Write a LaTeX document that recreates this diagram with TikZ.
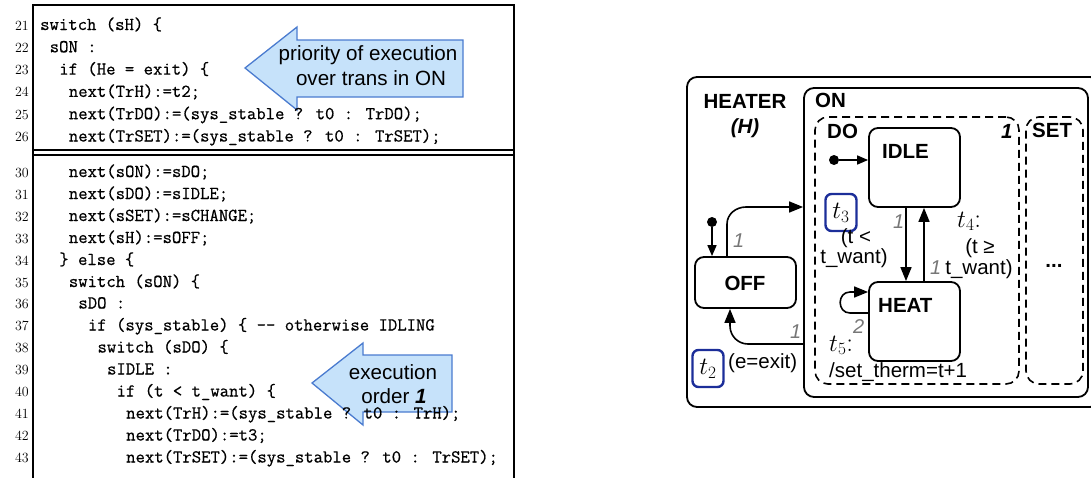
\documentclass[tikz,border=0pt]{standalone}
\usepackage{fontspec}
\newfontfamily\diag{Liberation Sans}
\newfontfamily\codefont[FakeBold=0.6]{Latin Modern Mono}
\usetikzlibrary{arrows.meta,calc}

\definecolor{calloutfill}{HTML}{C6E2FA}
\definecolor{calloutdraw}{HTML}{4A7BCF}
\definecolor{tbox}{HTML}{1C2E99}
\definecolor{prio}{HTML}{777777}

\tikzset{
  code/.style={anchor=base west, inner sep=0pt, font=\codefont\fontsize{18.2}{22}\selectfont},
  lnum/.style={anchor=base east, inner sep=0pt, font=\fontsize{14}{15}\selectfont},
  codebox/.style={line width=1.2pt},
  callout/.style={fill=calloutfill, draw=calloutdraw, line width=1.3pt, line join=miter},
  calltext/.style={anchor=base, inner sep=0pt, font=\diag\fontsize{20.6}{21}\selectfont},
  state/.style={draw, line width=1.8pt, rounded corners=9pt, inner sep=0pt},
  region/.style={draw, line width=1.6pt, dash pattern=on 8pt off 5pt, rounded corners=13pt, inner sep=0pt},
  lbl/.style={inner sep=0pt, font=\diag\fontsize{20.5}{21}\selectfont},
  ttl/.style={inner sep=0pt, font=\diag\bfseries\fontsize{20.5}{21}\selectfont},
  prio/.style={anchor=base west, inner sep=0pt, text=prio, font=\diag\itshape\fontsize{20}{20}\selectfont},
  tmath/.style={inner sep=0pt, font=\fontsize{27}{28}\selectfont},
  tname/.style={draw=tbox, line width=2.4pt, rounded corners=6pt, minimum width=31pt, minimum height=37pt, inner sep=0pt, font=\fontsize{27}{28}\selectfont},
  trans/.style={line width=1.6pt, -{Triangle[length=14pt,width=11pt]}},
  initarr/.style={line width=1.6pt, -{Triangle[length=11pt,width=9pt]}},
  initdot/.style={circle, fill, minimum size=10pt, inner sep=0pt},
}

% one listing line: number, baseline y, indentation (characters), text
\newcommand\codeln[4]{%
  \node[lnum] (n#1) at (29,#2) {#1};
  \node[code] (c#1) at ({40+#3*9.555},#2) {#4};}

\begin{document}
\begin{tikzpicture}[x=1pt,y=-1pt]
\useasboundingbox (0,0) rectangle (1091,477);

% ---------------- listing frame ----------------
\draw[codebox] (33,480) -- (33,5) -- (514,5) -- (514,480);
\draw[codebox] (33,150) -- (514,150);
\draw[codebox] (33,155) -- (514,155);

% ---------------- callouts ----------------
\draw[callout] (245,68) -- (297,27) -- (297,40) -- (463,40) -- (463,97)
  -- (297,97) -- (297,110) -- cycle;
\node[calltext] (prio1) at (368,60) {priority of execution};
\node[calltext] (prio2) at (371,85) {over trans in ON};

\draw[callout] (312,383) -- (363,343) -- (363,355) -- (452,355) -- (452,412)
  -- (363,412) -- (363,425) -- cycle;
\node[calltext] (ord1) at (393,379) {execution};
\node[calltext] (ord2) at (394,403) {order \textbf{\textit{1}}};

% ---------------- listing text ----------------
\codeln{21}{30}{0}{switch (sH) \{}
\codeln{22}{52.3}{1}{sON :}
\codeln{23}{74.6}{2}{if (He = exit) \{}
\codeln{24}{96.9}{3}{next(TrH):=t2;}
\codeln{25}{119.2}{3}{next(TrDO):=(sys\_stable ? t0 : TrDO);}
\codeln{26}{141.5}{3}{next(TrSET):=(sys\_stable ? t0 : TrSET);}
\codeln{30}{177}{3}{next(sON):=sDO;}
\codeln{31}{199}{3}{next(sDO):=sIDLE;}
\codeln{32}{221}{3}{next(sSET):=sCHANGE;}
\codeln{33}{243}{3}{next(sH):=sOFF;}
\codeln{34}{265}{2}{\} else \{}
\codeln{35}{287}{3}{switch (sON) \{}
\codeln{36}{308.5}{4}{sDO :}
\codeln{37}{330.5}{5}{if (sys\_stable) \{ -{}- otherwise IDLING}
\codeln{38}{352.5}{6}{switch (sDO) \{}
\codeln{39}{374.5}{7}{sIDLE :}
\codeln{40}{396.5}{8}{if (t < t\_want) \{}
\codeln{41}{418.5}{9}{next(TrH):=(sys\_stable ? t0 : TrH);}
\codeln{42}{440.5}{9}{next(TrDO):=t3;}
\codeln{43}{462.5}{9}{next(TrSET):=(sys\_stable ? t0 : TrSET);}

% ---------------- statechart ----------------
\node[state, rounded corners=10pt, minimum width=413pt, minimum height=330pt] (heater) at (893.5,242) {};
\node[state, rounded corners=10pt, minimum width=284pt, minimum height=309pt] (on) at (946,242.5) {};
\node[region, minimum width=204pt, minimum height=267pt] (do) at (917,250.5) {};
\node[region, minimum width=57pt, minimum height=267pt] (set) at (1054.5,250.5) {};
\node[state, minimum width=91pt, minimum height=79pt] (idle) at (914.5,167.5) {};
\node[state, minimum width=91pt, minimum height=79pt] (heat) at (914.5,321.5) {};
\node[state, minimum width=101pt, minimum height=51pt] (off) at (745.5,282.5) {};

% titles
\node[ttl, anchor=base] (heatert) at (745,108) {HEATER};
\node[ttl, anchor=base] (heaterh) at (745,133) {\itshape (H)};
\node[ttl, anchor=base west] (ont) at (815,107) {ON};
\node[ttl, anchor=base west] (dot) at (827,138) {DO};
\node[ttl, anchor=base west] (dorank) at (1001,138) {\itshape 1};
\node[ttl, anchor=base west] (sett) at (1032,137) {SET};
\node[ttl, anchor=base west] (idlet) at (882,158) {IDLE};
\node[ttl, anchor=base west] (heatt) at (878,312) {HEAT};
\node[ttl, anchor=base] (offt) at (745,290) {OFF};
\node[ttl, anchor=base] (more) at (1054,267) {...};

% initial states
\node[initdot] (i1) at (834,160) {};
\draw[initarr] (i1) -- (idle.west |- i1);
\node[initdot] (i2) at (712,222) {};
\draw[initarr] (i2) -- (off.north -| i2);

% transitions
\draw[trans] (off.north -| 727,0) -- (727,224) to[out=90,in=180] (746,207) -- (on.west |- 0,207);
\draw[trans] (idle.south -| 906,0) -- (heat.north -| 906,0);
\draw[trans] (heat.north -| 924,0) -- (idle.south -| 924,0);
\draw[trans] (heat.west |- 0,313) -- (850,313) to[out=180,in=180,looseness=1.6] (850,292) -- (heat.west |- 0,292);
\draw[trans] (on.west |- 0,344) -- (748,344) to[out=180,in=-90] (730,326) -- (off.south -| 730,0);

% priorities
\node[prio] (p1) at (733,247) {1};
\node[prio] (p2) at (893,228) {1};
\node[prio] (p3) at (930,274) {1};
\node[prio] (p4) at (853,333) {2};
\node[prio] (p5) at (790,338) {1};

% transition labels
\node[tname] (t3) at (841,212.5) {$t_3$};
\node[lbl, anchor=base] (c3a) at (856,243) {(t <};
\node[lbl, anchor=base] (c3b) at (854,263) {t\_want)};
\node[tmath, anchor=base west] (t4) at (957,227) {$t_4$:};
\node[lbl, anchor=base] (c4a) at (980,253) {(t ≥};
\node[lbl, anchor=base] (c4b) at (979,274) {t\_want)};
\node[tmath, anchor=base west] (t5) at (829,351) {$t_5$:};
\node[lbl, anchor=base west] (a5) at (829,377) {/set\_therm=t+1};
\node[tname] (t2) at (708,368.5) {$t_2$};
\node[lbl, anchor=base west] (c2) at (728,368) {(e=exit)};

\end{tikzpicture}
\end{document}
